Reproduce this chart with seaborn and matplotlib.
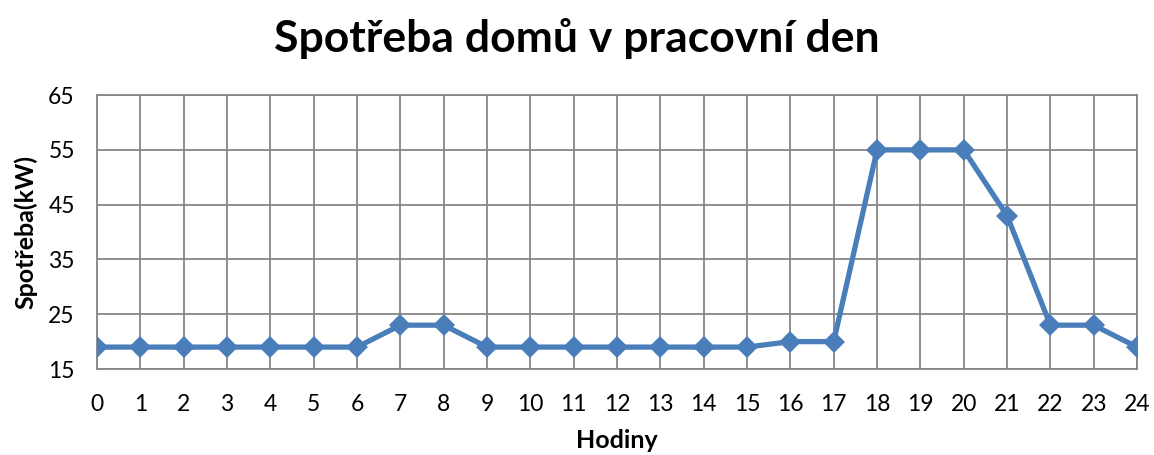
import matplotlib
matplotlib.use("Agg")
import matplotlib.pyplot as plt
import seaborn as sns
import pandas as pd

hours = list(range(0, 25))
consumption = [19, 19, 19, 19, 19, 19, 19, 23, 23, 19, 19, 19, 19, 19, 19, 19,
               20, 20, 55, 55, 55, 43, 23, 23, 19]
y_ticks = [15, 25, 35, 45, 55, 65]

title = "Spotřeba domů v pracovní den"
xlabel = "Hodiny"
ylabel = "Spotřeba(kW)"

sns.set_theme(style="white")
plt.rcParams['font.family'] = ['Lato', 'DejaVu Sans']
plt.rcParams['text.color'] = 'black'
plt.rcParams['axes.labelcolor'] = 'black'

df = pd.DataFrame({"h": hours, "c": consumption})

fig = plt.figure(figsize=(11.54, 4.55), dpi=100)
ax = fig.add_axes([0.0841, 0.189, 0.9012, 0.602])

grid_c = "#868686"
sns.lineplot(data=df, x="h", y="c", ax=ax, color="#4A7EBB", linewidth=3.8,
             marker="D", markersize=11, markeredgewidth=0, zorder=3)

ax.set_xlim(0, 24)
ax.set_ylim(15, 65)
ax.set_xticks(hours)
ax.set_yticks(y_ticks)
ax.grid(True, color=grid_c, linewidth=1.3)
for s in ["left", "bottom", "right", "top"]:
    ax.spines[s].set_visible(True)
    ax.spines[s].set_color(grid_c)
    ax.spines[s].set_linewidth(1.3)
ax.tick_params(axis="both", direction="out", length=6, width=1.3, color=grid_c,
               labelsize=16.5, labelcolor="black")
ax.tick_params(axis="x", pad=12)
ax.tick_params(axis="y", pad=10)

ax.set_xlabel(xlabel, fontsize=18, fontweight="bold", labelpad=10, color="black")
ax.set_ylabel(ylabel, fontsize=18, fontweight="bold", labelpad=8, color="black")
fig.suptitle(title, fontsize=32, fontweight="bold", x=0.5, y=0.96, color="black")

fig.savefig("out.png", dpi=100)
